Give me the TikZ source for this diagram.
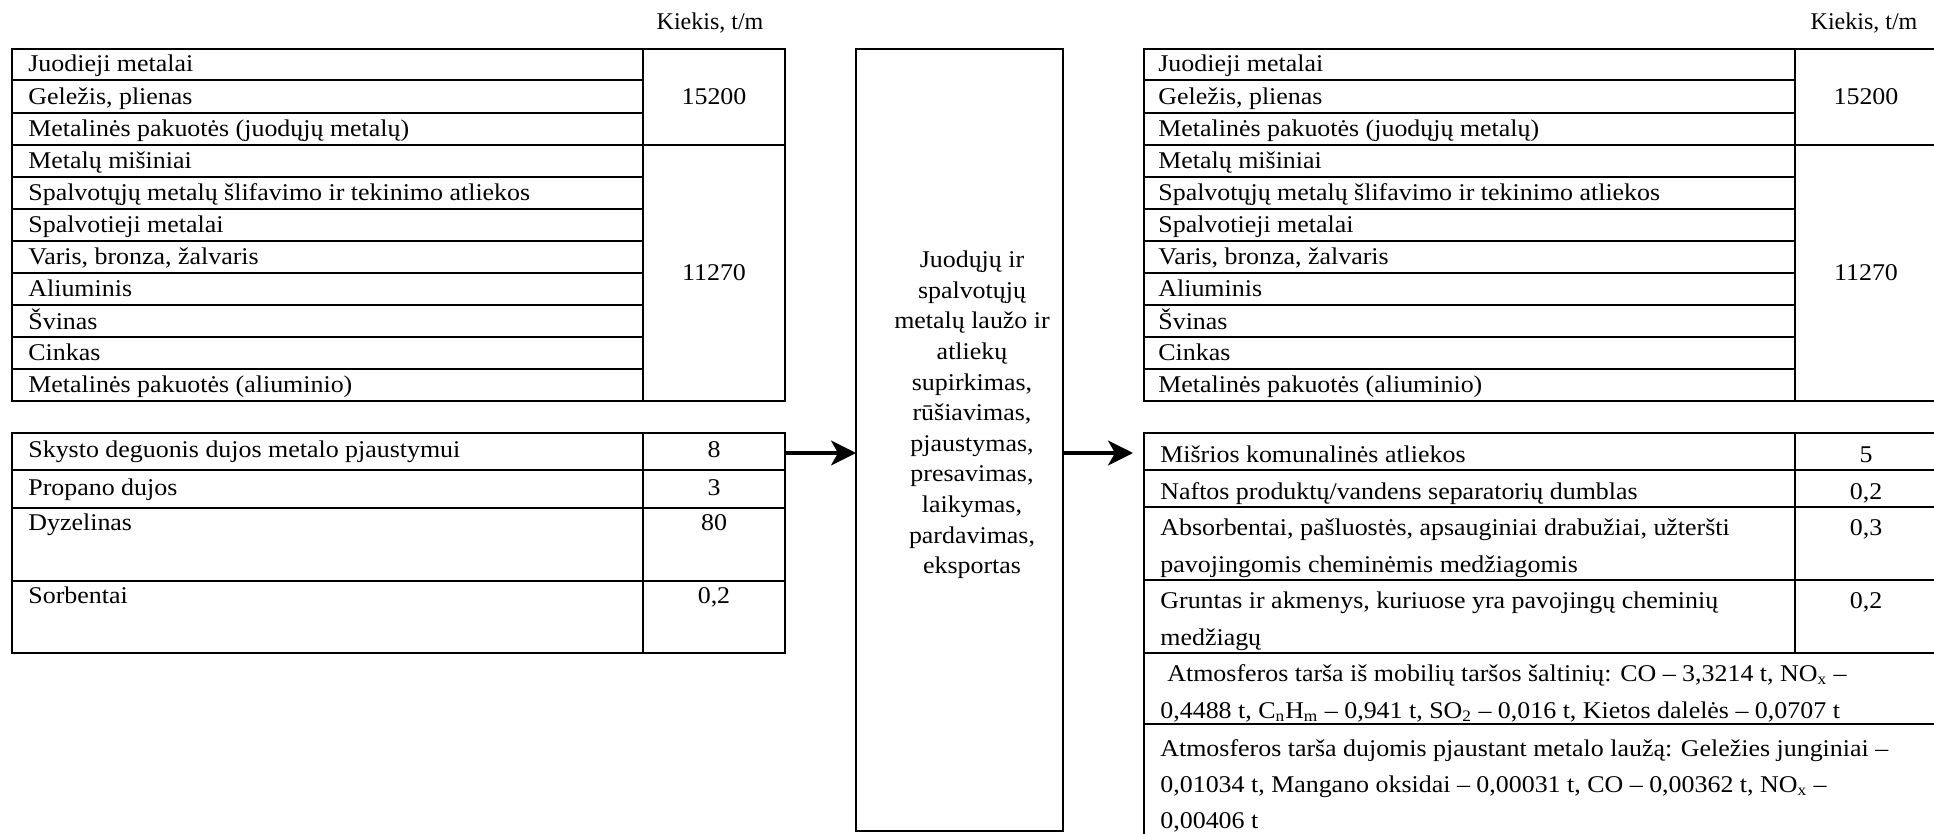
\documentclass[tikz,border=0pt]{standalone}
\usepackage{fontspec}
\setmainfont[FakeStretch=1.08]{Liberation Serif}
\newfontfamily\unitfont{Liberation Serif}
\usetikzlibrary{arrows.meta}

\begin{document}
\begin{tikzpicture}[x=0.5pt, y=-0.5pt, font=\fontsize{12pt}{15.3pt}\selectfont,
  frame/.style={draw, line width=0.8pt, inner sep=0pt, outer sep=0pt, anchor=north west},
  grid/.style={line width=0.8pt},
  cell/.style={anchor=base west, inner sep=0pt},
  val/.style={anchor=base, inner sep=0pt},
  unit/.style={anchor=base, inner sep=0pt, font=\unitfont\fontsize{12pt}{15.3pt}\selectfont},
  flow/.style={-{Stealth[length=12.5pt, width=12.5pt, inset=3.5pt]}, line width=1.6pt}]
\useasboundingbox (0,0) rectangle (1934,834);
\clip (0,0) rectangle (1934,834);
% frames
\node[frame, minimum width=386.5pt, minimum height=176pt] (tabL) at (12,49) {};
\node[frame, minimum width=386.5pt, minimum height=110pt] (inL) at (12,433) {};
\node[frame, minimum width=103.5pt, minimum height=391pt] (proc) at (856,49) {};
\node[frame, minimum width=396.5pt, minimum height=176pt] (tabR) at (1144,49) {};
\node[frame, minimum width=396.5pt, minimum height=240pt] (outR) at (1144,433) {};
% left table, metals
\draw[grid] (643,49) -- (643,401);
\draw[grid] (12,80) -- (643,80);
\draw[grid] (12,113) -- (643,113);
\draw[grid] (12,145) -- (785,145);
\draw[grid] (12,177) -- (643,177);
\draw[grid] (12,209) -- (643,209);
\draw[grid] (12,241) -- (643,241);
\draw[grid] (12,273) -- (643,273);
\draw[grid] (12,305) -- (643,305);
\draw[grid] (12,337) -- (643,337);
\draw[grid] (12,369) -- (643,369);
\node[unit] (kiekisL) at (710,30) {Kiekis, t/m};
\node[cell] (L1) at (28,72) {Juodieji metalai};
\node[cell] (L2) at (28,105) {Geležis, plienas};
\node[cell] (L3) at (28,137) {Metalinės pakuotės (juodųjų metalų)};
\node[cell] (L4) at (28,169) {Metalų mišiniai};
\node[cell] (L5) at (28,201) {Spalvotųjų metalų šlifavimo ir tekinimo atliekos};
\node[cell] (L6) at (28,233) {Spalvotieji metalai};
\node[cell] (L7) at (28,265) {Varis, bronza, žalvaris};
\node[cell] (L8) at (28,297) {Aliuminis};
\node[cell] (L9) at (28,329) {Švinas};
\node[cell] (L10) at (28,361) {Cinkas};
\node[cell] (L11) at (28,393) {Metalinės pakuotės (aliuminio)};
\node (qL1) at (714,97) {15200};
\node (qL2) at (714,273) {11270};
% left table, materials
\draw[grid] (643,433) -- (643,653);
\draw[grid] (12,470) -- (785,470);
\draw[grid] (12,508) -- (785,508);
\draw[grid] (12,581) -- (785,581);
\node[cell] (I1) at (28,458) {Skysto deguonis dujos metalo pjaustymui};
\node[cell] (I2) at (28,495) {Propano dujos};
\node[cell] (I3) at (28,530) {Dyzelinas};
\node[cell] (I4) at (28,603) {Sorbentai};
\node[val] (qI1) at (714,458) {8};
\node[val] (qI2) at (714,495) {3};
\node[val] (qI3) at (714,530) {80};
\node[val] (qI4) at (714,603) {0,2};
% process
\node[align=center] (proctext) at (972,415) {Juodųjų ir\\ spalvotųjų\\ metalų laužo ir\\ atliekų\\ supirkimas,\\ rūšiavimas,\\ pjaustymas,\\ presavimas,\\ laikymas,\\ pardavimas,\\ eksportas};
% right table, metals
\draw[grid] (1795,49) -- (1795,401);
\draw[grid] (1144,80) -- (1795,80);
\draw[grid] (1144,113) -- (1795,113);
\draw[grid] (1144,145) -- (1937,145);
\draw[grid] (1144,177) -- (1795,177);
\draw[grid] (1144,209) -- (1795,209);
\draw[grid] (1144,241) -- (1795,241);
\draw[grid] (1144,273) -- (1795,273);
\draw[grid] (1144,305) -- (1795,305);
\draw[grid] (1144,337) -- (1795,337);
\draw[grid] (1144,369) -- (1795,369);
\node[unit] (kiekisR) at (1864,30) {Kiekis, t/m};
\node[cell] (R1) at (1158,72) {Juodieji metalai};
\node[cell] (R2) at (1158,105) {Geležis, plienas};
\node[cell] (R3) at (1158,137) {Metalinės pakuotės (juodųjų metalų)};
\node[cell] (R4) at (1158,169) {Metalų mišiniai};
\node[cell] (R5) at (1158,201) {Spalvotųjų metalų šlifavimo ir tekinimo atliekos};
\node[cell] (R6) at (1158,233) {Spalvotieji metalai};
\node[cell] (R7) at (1158,265) {Varis, bronza, žalvaris};
\node[cell] (R8) at (1158,297) {Aliuminis};
\node[cell] (R9) at (1158,329) {Švinas};
\node[cell] (R10) at (1158,361) {Cinkas};
\node[cell] (R11) at (1158,393) {Metalinės pakuotės (aliuminio)};
\node (qR1) at (1866,97) {15200};
\node (qR2) at (1866,273) {11270};
% right table, wastes and emissions
\draw[grid] (1795,433) -- (1795,653);
\draw[grid] (1144,470) -- (1937,470);
\draw[grid] (1144,507) -- (1937,507);
\draw[grid] (1144,580) -- (1937,580);
\draw[grid] (1144,653) -- (1937,653);
\draw[grid] (1144,724) -- (1937,724);
\node[cell] (O1) at (1160,462) {Mišrios komunalinės atliekos};
\node[cell] (O2) at (1160,499) {Naftos produktų/vandens separatorių dumblas};
\node[cell] (O3a) at (1160,535) {Absorbentai, pašluostės, apsauginiai drabužiai, užteršti};
\node[cell] (O3b) at (1160,572) {pavojingomis cheminėmis medžiagomis};
\node[cell] (O4a) at (1160,608) {Gruntas ir akmenys, kuriuose yra pavojingų cheminių};
\node[cell] (O4b) at (1160,645) {medžiagų};
\node[cell] (O5a) at (1167,681) {Atmosferos tarša iš mobilių taršos šaltinių: CO -- 3,3214 t, NO\textsubscript{x} --};
\node[cell] (O5b) at (1160,718) {0,4488 t, C\textsubscript{n}H\textsubscript{m} -- 0,941 t, SO\textsubscript{2} -- 0,016 t, Kietos dalelės -- 0,0707 t};
\node[cell] (O6a) at (1160,756) {Atmosferos tarša dujomis pjaustant metalo laužą: Geležies junginiai --};
\node[cell] (O6b) at (1160,792) {0,01034 t, Mangano oksidai -- 0,00031 t, CO -- 0,00362 t, NO\textsubscript{x} --};
\node[cell] (O6c) at (1160,828) {0,00406 t};
\node[val] (qO1) at (1866,462) {5};
\node[val] (qO2) at (1866,499) {0,2};
\node[val] (qO3) at (1866,535) {0,3};
\node[val] (qO4) at (1866,608) {0,2};
% flow
\coordinate (flowY) at (0,453);
\draw[flow] (inL.east |- flowY) -- (proc.west |- flowY);
\draw[flow, shorten >=5.5pt] (proc.east |- flowY) -- (outR.west |- flowY);
\end{tikzpicture}
\end{document}
